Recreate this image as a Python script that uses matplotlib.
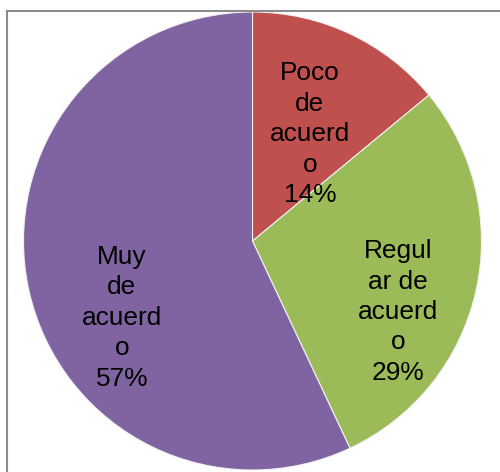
import matplotlib.pyplot as plt
from matplotlib.lines import Line2D

labels = ["Poco\nde\nacuerd\no\n14%", "Regul\nar de\nacuerd\no\n29%", "Muy\nde\nacuerd\no\n57%"]
values = [14, 29, 57]
colors = ["#C0504D", "#9BBB59", "#8064A2"]
# label centres in pie units (radius = 1), as Excel placed them
label_pos = [(0.251, 0.467), (0.635, -0.310), (-0.570, -0.336)]

W, H = 500, 472
fig = plt.figure(figsize=(W / 100, H / 100), dpi=100)
cx, cy, r = 252.5, 241, 229
ax = fig.add_axes([(cx - r) / W, (H - cy - r) / H, 2 * r / W, 2 * r / H])
ax.pie(values, colors=colors, startangle=90, counterclock=False,
       wedgeprops=dict(edgecolor="#F2F2F2", linewidth=0.8))
ax.set_xlim(-1, 1)
ax.set_ylim(-1, 1)
ax.set_aspect("equal")
ax.axis("off")

for txt, (x, y) in zip(labels, label_pos):
    ax.text(x, y, txt, ha="center", va="center", fontsize=18.9,
            family="Liberation Sans", color="black", linespacing=1.34)

# chart frame (only left and top edges fall inside the picture)
top = 1 - 11 / H
left = 7 / W
fig.add_artist(Line2D([left, 1.0], [top, top], transform=fig.transFigure,
                      color="#8C8C8C", linewidth=1.5))
fig.add_artist(Line2D([left, left], [0.0, top], transform=fig.transFigure,
                      color="#8C8C8C", linewidth=1.5))

fig.savefig("out.png", dpi=100)
